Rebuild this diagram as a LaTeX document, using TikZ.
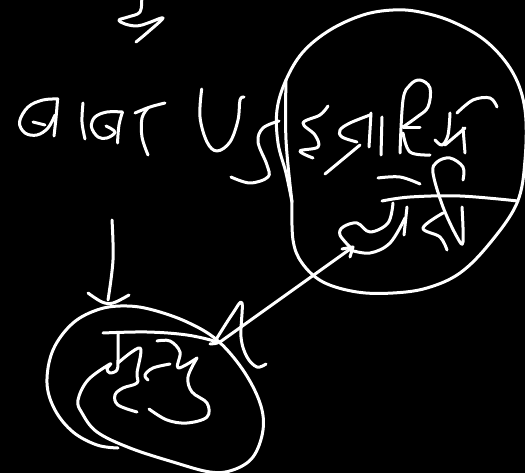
\documentclass[tikz,border=0pt]{standalone}
\usepackage{xcolor}
\usepackage{tikz}
\usetikzlibrary{calc}

\begin{document}
\begin{tikzpicture}[
  x=1pt, y=-1pt,
  ink/.style={draw=white, line width=3pt, line cap=round, line join=round},
  pen/.style={smooth, tension=0.6}
]
\useasboundingbox (0,0) rectangle (525,473);
\fill[black] (0,0) rectangle (525,473);

% top squiggle
\draw[ink] plot[pen] coordinates {(141.7,-2) (140,12) (128,17) (119,20) (125,24) (137,26) (148,23) (163,18) (148,32) (136,42)};

% first line of writing
\draw[ink] plot[pen] coordinates {(58,99) (43,100) (28,107) (19.5,122) (25,133) (37,135) (48,128) (55,115)};
\draw[ink] plot[pen] coordinates {(57.5,100) (56,118) (54,136)};
\draw[ink] plot[pen] coordinates {(33,122) (45,125)};
\draw[ink] plot[pen] coordinates {(83,103) (82,122) (85,139)};
\draw[ink] plot[pen] coordinates {(122,112) (107,112) (95,117) (91.5,127) (98,137) (107,138) (115,132) (106,126)};
\draw[ink] plot[pen] coordinates {(122.5,112) (119,125) (117.5,143)};
\draw[ink] plot[pen] coordinates {(165,103) (150,107) (135,113)};
\draw[ink] plot[pen] coordinates {(148,108) (142,118) (142,137) (148,155)};
\draw[ink] plot[pen] coordinates {(201.7,89) (200,117) (207,142) (217,151) (230,142) (238,120) (240,100) (244,97)};
\draw[ink] plot[pen] coordinates {(279,121) (263,128) (258,142) (267,165) (268,177) (250,183) (231,177)};

% big circle
\draw[ink] plot[pen] coordinates {(292,202) (293,240) (302,263) (323,282) (357,292) (393,293) (427,288) (460,273) (490,243) (517,203) (525,160) (525,110) (513,73) (487,42) (453,22) (420,12) (393,10) (363,15) (330,30) (303,52) (286,80) (277,110) (278,143) (286,173) (292,202)};
\draw[ink] plot[pen] coordinates {(286,80) (286,140) (292,202)};

% writing inside the circle
\draw[ink] plot[pen] coordinates {(328,106) (320,115) (303,123) (315,135) (318,147) (300,151) (313,158)};
\draw[ink] plot[pen] coordinates {(357,142) (342,137) (340,130) (350,123) (370,115)};
\draw[ink] plot[pen] coordinates {(371,113) (369,147)};
\draw[ink] plot[pen] coordinates {(325,174) (360,145)};
\draw[ink] plot[pen] coordinates {(382,117) (381,155)};
\draw[ink] plot[pen] coordinates {(400,153) (403,100) (410,85) (420,80) (430,88) (428,107) (417,117) (403,127)};
\draw[ink] plot[pen] coordinates {(403,128) (420,128)};
\draw[ink] plot[pen] coordinates {(403,133) (410,152) (430,155)};
\draw[ink] plot[pen] coordinates {(435,140) (442,145) (448,135) (450,113)};
\draw[ink] plot[pen] coordinates {(445,145) (465,128)};
\draw[ink] plot[pen] coordinates {(463,128) (465,153)};
\draw[ink] plot[pen] coordinates {(457,113) (473,100) (490,98) (497,107)};
\draw[ink] plot[pen] coordinates {(378,178) (400,177) (420,184)};
\draw[ink] plot[pen] coordinates {(463,180) (463,167) (450,158) (437,162) (433,173) (443,207) (457,237) (463,242) (462,207)};
\draw[ink] plot[pen] coordinates {(382,201) (410,197) (460,196) (518,201)};
\draw[ink] plot[pen] coordinates {(443,213) (423,228) (440,237) (447,250)};
\draw[ink] plot[pen] coordinates {(393,203) (388,223) (370,232) (357,223) (343,227) (340,235) (350,247)};
\draw[ink] plot[pen] coordinates {(350,250) (370,253) (390,243) (405,218)};
\draw[ink] plot[pen] coordinates {(407,207) (404,235)};

% connector between the two rings
\coordinate (mrityuTip) at (220,342);
\coordinate (lordTip) at (353,247);
\draw[ink] (mrityuTip) -- (lordTip);
\draw[ink] (350,257) -- (lordTip) -- (342,249);

% down arrow
\draw[ink] plot[pen] coordinates {(112,220) (113,260) (108,300)};
\draw[ink] plot[pen] coordinates {(88,293) (102,302) (113,303) (129,295)};

% lower ring
\draw[ink] plot[pen] coordinates {(118,448) (97,445) (73,432) (55,410) (47,383) (53,350) (73,323) (100,309) (127,306) (153,310) (187,322) (217,340) (243,370) (260,403) (263,430) (253,457) (233,470) (210,472) (173,462) (130,448) (97,432) (82,413) (78,400) (88,380) (110,364) (107,369) (110,373) (117,370) (118,360) (118,333)};

% writing inside the lower ring
\draw[ink] plot[pen] coordinates {(103,333) (147,332) (187,335) (217,342) (210,344)};
\draw[ink] plot[pen] coordinates {(118,363) (140,348) (137,373) (137,383) (123,388) (115,395) (118,405) (137,412)};
\draw[ink] plot[pen] coordinates {(157,341) (170,341) (180,352) (178,368) (197,358)};
\draw[ink] plot[pen] coordinates {(197,358) (188,377) (192,392) (207,403) (207,417) (187,423) (167,420) (149,409)};
\draw[ink] plot[pen] coordinates {(170,364) (153,368) (145,375) (148,380)};
\draw[ink] plot[pen] coordinates {(217,338) (233,313) (242,303) (241,337) (247,357) (257,367) (266,364)};
\end{tikzpicture}
\end{document}
